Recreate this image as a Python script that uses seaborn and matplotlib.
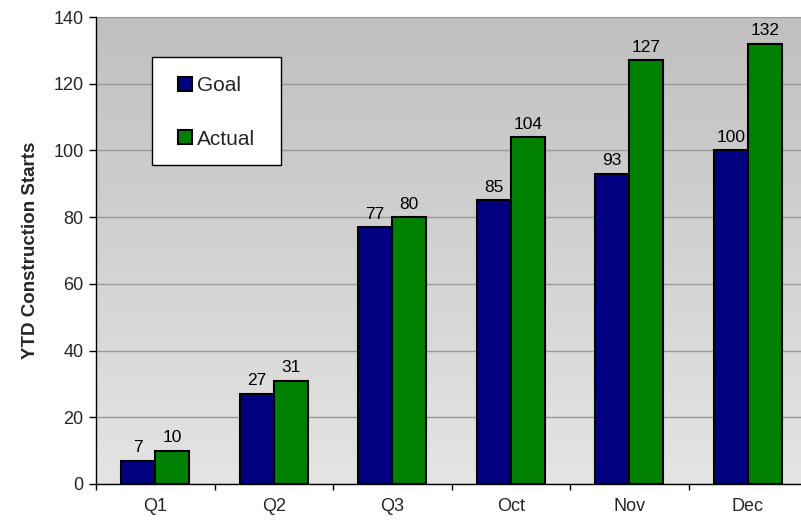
import numpy as np
import pandas as pd
import matplotlib
matplotlib.use("Agg")
import matplotlib.pyplot as plt
from matplotlib.patches import Rectangle
from matplotlib.colors import LinearSegmentedColormap
import seaborn as sns

categories = ["Q1", "Q2", "Q3", "Oct", "Nov", "Dec"]
goal = [7, 27, 77, 85, 93, 100]
actual = [10, 31, 80, 104, 127, 132]
series_names = ["Goal", "Actual"]
y_ticks = [0, 20, 40, 60, 80, 100, 120, 140]

sns.set_theme(style="white")
plt.rcParams['font.family'] = ['Liberation Sans', 'DejaVu Sans']

df = pd.DataFrame({
    "category": categories * 2,
    "value": goal + actual,
    "series": [series_names[0]] * len(goal) + [series_names[1]] * len(actual),
})

fig = plt.figure(figsize=(8.01, 5.27), dpi=100)
ax = fig.add_axes([96 / 801, 43 / 527, 711 / 801, 467 / 527])

# gradient background
grad = np.linspace(0, 1, 256).reshape(-1, 1)
cmap = LinearSegmentedColormap.from_list("bg", ["#e4e4e4", "#c0c0c0"])
ax.imshow(grad, extent=[0, 1, 0, 1], transform=ax.transAxes, cmap=cmap,
          aspect="auto", origin="lower", zorder=0)

sns.barplot(data=df, x="category", y="value", hue="series", order=categories,
            hue_order=series_names, palette=["#000080", "#008000"],
            width=0.574, gap=0, edgecolor="black", linewidth=1.5,
            saturation=1, ax=ax, zorder=3, legend=True)

for c in ax.containers:
    ax.bar_label(c, padding=4, fontsize=12.5, color="black")

ax.set_ylim(0, 140)
ax.set_xlim(-0.5, len(categories) - 0.5)
ax.set_yticks(y_ticks)
ax.set_yticklabels([str(t) for t in y_ticks], fontsize=13)
ax.yaxis.grid(True, color="#999999", linewidth=1)
for gl in ax.get_ygridlines():
    gl.set_zorder(1)

ax.set_xticks(np.arange(-0.5, len(categories), 1))
ax.set_xticklabels([])
ax.set_xticks(np.arange(len(categories)), minor=True)
ax.set_xticklabels(categories, minor=True, fontsize=13)
ax.tick_params(axis="x", which="major", length=4.5, width=1, color="black", direction="out", bottom=True)
ax.tick_params(axis="x", which="minor", length=0, pad=10)
ax.tick_params(axis="y", length=5, width=1, color="black", direction="out", left=True, pad=4)

ax.set_xlabel("")
ax.set_ylabel("YTD Construction Starts", fontsize=13.5, fontweight="bold", labelpad=10)

for s in ["top", "right"]:
    ax.spines[s].set_visible(False)
for s in ["left", "bottom"]:
    ax.spines[s].set_color("black")
    ax.spines[s].set_linewidth(1)
    ax.spines[s].set_zorder(5)

# legend box
box = Rectangle((0.0788, 0.6831), 0.1814, 0.2312, transform=ax.transAxes,
                facecolor="white", edgecolor="black", linewidth=1, zorder=9)
ax.add_patch(box)

handles, labels = ax.get_legend_handles_labels()
leg = ax.legend(handles, labels, loc="upper left", bbox_to_anchor=(0.1153, 0.873),
                fontsize=15, frameon=False, borderpad=0,
                labelspacing=1.65, handlelength=0.65, handleheight=0.65,
                handletextpad=0.25, borderaxespad=0)
leg.set_zorder(10)

fig.savefig("out.png", dpi=100)
